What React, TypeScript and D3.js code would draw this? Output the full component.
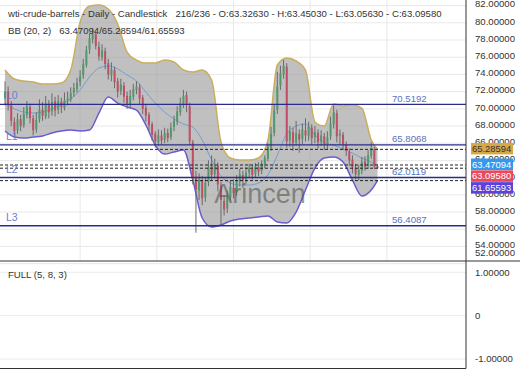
import * as d3 from "d3"

const titleText = "wti-crude-barrels - Daily - Candlestick   216/236 - O:63.32630 - H:63.45030 - L:63.05630 - C:63.09580"
const bbText = "BB (20, 2)   63.47094/65.28594/61.65593"
const oscText = "FULL (5, 8, 3)"
const watermark = "Arincen"

// daily candles: [open, high, low, close]
const ohlc: [number, number, number, number][] = [
  [71.2, 73.2, 70.4, 72.0], [72.0, 72.6, 69.8, 70.5], [70.4, 70.9, 68.0, 68.6], [68.5, 69.0, 66.7, 67.4],
  [67.5, 69.5, 67.1, 68.8], [68.8, 69.3, 67.4, 68.0], [68.1, 70.2, 67.8, 69.4], [69.3, 70.9, 68.9, 70.3],
  [70.2, 70.6, 68.3, 68.9], [68.9, 69.3, 66.9, 67.5], [67.6, 69.6, 67.2, 68.7], [68.8, 71.1, 68.4, 69.9],
  [69.9, 70.8, 68.6, 69.2], [69.1, 71.5, 68.8, 70.6], [70.5, 71.0, 68.9, 69.6], [69.7, 71.8, 69.2, 70.8],
  [70.9, 71.4, 69.1, 69.8], [69.9, 71.6, 69.4, 70.9], [70.8, 71.3, 69.5, 70.2], [70.1, 71.9, 69.8, 71.0],
  [71.0, 72.0, 70.4, 71.2], [71.1, 72.5, 70.8, 71.8], [71.9, 73.0, 71.4, 72.4], [72.3, 73.6, 71.9, 73.0],
  [73.1, 74.5, 72.6, 73.8], [73.9, 75.8, 73.5, 75.2], [75.1, 77.3, 74.8, 76.8], [76.9, 78.7, 76.4, 78.2],
  [78.1, 79.4, 77.6, 78.8], [78.7, 79.0, 76.9, 77.3], [77.2, 77.8, 75.6, 76.1], [76.0, 77.5, 75.6, 76.8],
  [76.7, 77.1, 74.6, 75.2], [75.3, 75.8, 73.4, 74.0], [73.9, 75.4, 73.2, 74.6], [74.5, 74.9, 72.4, 73.1],
  [73.2, 73.6, 71.3, 72.0], [72.1, 73.5, 71.6, 72.8], [72.7, 73.1, 70.7, 71.4], [71.5, 72.0, 70.0, 70.6],
  [70.5, 72.2, 70.1, 71.5], [71.4, 72.9, 71.0, 72.3], [72.2, 73.2, 71.7, 72.6], [72.5, 72.9, 70.5, 71.2],
  [71.3, 71.6, 69.4, 70.0], [70.1, 70.5, 68.5, 69.2], [69.3, 69.6, 67.4, 68.1], [68.2, 68.5, 66.3, 67.0],
  [67.1, 67.4, 65.5, 66.2], [66.1, 67.6, 65.7, 66.9], [66.9, 67.5, 65.8, 66.3], [66.4, 67.8, 66.0, 67.2],
  [67.2, 67.7, 66.1, 66.6], [66.7, 68.4, 66.4, 67.8], [67.9, 69.2, 67.4, 68.6], [68.5, 70.3, 68.1, 69.7],
  [69.6, 71.3, 69.2, 70.6], [70.5, 72.2, 70.1, 71.5], [71.6, 72.0, 69.6, 70.4], [70.3, 70.7, 65.8, 66.2],
  [66.1, 66.4, 61.2, 62.0], [62.1, 62.8, 55.6, 60.6], [60.5, 62.5, 59.4, 61.8], [61.7, 62.2, 58.8, 59.6],
  [59.7, 62.0, 59.2, 61.4], [61.5, 64.0, 61.0, 63.2], [63.3, 64.6, 61.7, 62.3], [62.4, 64.2, 61.9, 63.5],
  [63.4, 63.8, 60.4, 61.2], [61.1, 61.5, 56.5, 59.4], [59.3, 59.9, 57.6, 58.3], [58.4, 60.5, 57.9, 59.8],
  [59.7, 61.6, 59.3, 60.9], [60.8, 61.8, 59.6, 60.2], [60.3, 62.3, 59.9, 61.6], [61.5, 63.0, 61.0, 62.4],
  [62.3, 62.8, 60.8, 61.7], [61.8, 63.2, 61.3, 62.6], [62.6, 63.6, 62.0, 63.1], [63.0, 63.5, 61.8, 62.3],
  [62.4, 63.7, 62.0, 63.3], [63.2, 63.8, 62.2, 62.7], [62.8, 64.0, 62.4, 63.6], [63.5, 64.6, 63.1, 64.3],
  [64.2, 66.0, 63.9, 65.6], [65.5, 67.9, 65.1, 67.1], [67.2, 70.5, 66.8, 69.8], [69.9, 74.3, 69.4, 72.6],
  [72.7, 75.0, 72.2, 74.1], [74.0, 75.7, 73.5, 75.0], [74.9, 75.3, 65.5, 66.2], [66.3, 68.0, 65.6, 67.4],
  [67.3, 67.8, 65.1, 66.0], [66.1, 68.6, 65.7, 67.2], [67.1, 67.6, 64.9, 66.4], [66.5, 68.3, 65.9, 67.6],
  [67.5, 68.9, 66.2, 66.9], [66.8, 68.5, 66.3, 67.9], [67.8, 68.2, 65.8, 66.6], [66.7, 68.0, 66.0, 67.3],
  [67.2, 67.6, 65.4, 66.1], [66.2, 67.5, 65.7, 66.9], [66.8, 67.2, 65.2, 65.8], [65.9, 67.4, 65.3, 66.7],
  [66.8, 69.1, 66.4, 68.3], [68.2, 70.4, 67.7, 69.6], [69.5, 69.9, 66.1, 66.8], [66.9, 67.6, 65.8, 67.1],
  [67.0, 67.3, 65.2, 65.9], [65.8, 66.2, 64.5, 65.1], [65.0, 65.4, 63.4, 64.0], [64.1, 64.6, 62.5, 63.2],
  [63.1, 63.6, 61.8, 62.4], [62.3, 63.5, 61.7, 62.9], [62.8, 64.4, 62.4, 63.8], [63.9, 64.5, 62.8, 63.3],
  [63.4, 65.2, 63.0, 64.6], [64.5, 66.1, 64.2, 65.4], [65.3, 65.6, 63.0, 63.3], [63.3263, 63.4503, 63.0563, 63.0958],
]

// Bollinger band values, read at every third bar
const bandBars = [0, 3, 6, 9, 12, 15, 18, 21, 24, 27, 30, 33, 36, 39, 42, 45, 48, 51, 54, 57, 60,
  63, 66, 69, 72, 75, 78, 81, 84, 87, 90, 93, 96, 99, 102, 105, 108, 111, 114, 117, 119]
const upperBand = [74.51, 73.46, 73.23, 73.12, 72.88, 72.88, 73.0, 74.51, 80.09, 81.95, 82.07, 81.6, 79.86,
  76.6, 75.67, 75.32, 75.32, 75.67, 75.44, 74.51, 74.28, 74.51, 73.35, 66.14, 64.28, 64.05, 64.05, 64.28,
  66.37, 75.09, 75.9, 75.56, 74.51, 68.47, 68.0, 70.56, 70.33, 70.44, 70.09, 66.37, 65.28594]
const middleBand = [70.67, 69.98, 69.63, 69.51, 69.63, 69.98, 70.56, 71.14, 72.19, 73.7, 74.74, 74.97, 74.63,
  73.93, 73.23, 71.95, 70.67, 69.63, 68.81, 68.23, 67.88, 66.37, 64.05, 62.19, 61.38, 61.14, 61.14, 61.38,
  62.31, 64.63, 67.07, 68.0, 68.23, 66.95, 66.02, 65.79, 65.33, 64.86, 64.28, 63.81, 63.47094]
const lowerBand = [67.42, 66.72, 66.61, 66.72, 66.84, 67.19, 67.42, 67.53, 67.42, 67.53, 69.51, 71.37, 70.67,
  70.21, 69.86, 68.12, 65.79, 64.74, 64.98, 65.21, 61.72, 57.31, 56.27, 56.5, 56.96, 57.19, 57.31, 57.42,
  57.54, 56.84, 56.73, 58.0, 60.56, 63.12, 64.28, 64.4, 63.81, 61.72, 59.86, 60.56, 61.65593]

const levelNames = ["L0", "L1", "L2", "L3"]
const levelValues = [70.5192, 65.8068, 62.0119, 56.4087]

const lastValues = [65.28594, 63.47094, 63.0958, 61.65593]
const lastColors = ["#d8a847", "#3399ee", "#e84a5c", "#5b42d8"]
const lastTextColors = ["#333", "#fff", "#fff", "#fff"]

const priceTicks = [82, 80, 78, 76, 74, 72, 70, 68, 66, 64, 62, 60, 58, 56, 54, 52]
const oscTicks = [1, 0, -1]
const oscTickLabels = ["1.00000", "0", "-1.00000"]
const gridBars = [24, 48.5, 73, 97.5, 122]

const W = 520
const H = 390
const plotRight = 466
const mainBottom = 261
const oscBottom = 368.5
const font = "'Liberation Sans', Arial, sans-serif"

export default function App() {
  const x = d3.scaleLinear().domain([0, ohlc.length - 1]).range([5, 377.5])
  const y = d3.scaleLinear().domain([52.31, 82.65]).range([mainBottom, 0])
  const yOsc = d3.scaleLinear().domain([-1, 1]).range([359, 272.3])

  const bandPts = bandBars.map((b, i) => ({ b, up: upperBand[i], mid: middleBand[i], lo: lowerBand[i] }))
  const area = d3
    .area<(typeof bandPts)[number]>()
    .x((d) => x(d.b))
    .y0((d) => y(d.lo))
    .y1((d) => y(d.up))
    .curve(d3.curveMonotoneX)
  const line = (key: "up" | "mid" | "lo") =>
    d3
      .line<(typeof bandPts)[number]>()
      .x((d) => x(d.b))
      .y((d) => y(d[key]))
      .curve(d3.curveMonotoneX)(bandPts) || ""

  // stack the last-value badges so they don't overlap
  const badgeY: number[] = []
  lastValues.forEach((v, i) => {
    const yy = y(v) - 0.7
    badgeY.push(i === 0 ? yy : Math.max(yy, badgeY[i - 1] + 11.8))
  })

  return (
    <svg width={W} height={H} style={{ position: "absolute", left: 0, top: 0, fontFamily: font }}>
      <rect width={W} height={H} fill="#fff" />

      {/* grid */}
      {priceTicks.map((t) => (
        <line key={t} x1={0} x2={plotRight} y1={y(t)} y2={y(t)} stroke="#e9e9e9" />
      ))}
      {gridBars.map((g) => (
        <line key={g} x1={x(g)} x2={x(g)} y1={0} y2={mainBottom} stroke="#e9e9e9" />
      ))}
      {oscTicks.map((t) => (
        <line key={t} x1={0} x2={plotRight} y1={yOsc(t)} y2={yOsc(t)} stroke="#ececec" />
      ))}

      {/* bollinger bands */}
      <path d={area(bandPts) || ""} fill="#9a9a9a" fillOpacity={0.62} />
      <path d={line("mid")} fill="none" stroke="#6f9fd6" strokeWidth={1} />
      <path d={line("up")} fill="none" stroke="#c9ae5c" strokeWidth={1.5} />
      <path d={line("lo")} fill="none" stroke="#6a5ccf" strokeWidth={1.5} />

      {/* candles */}
      {ohlc.map(([o, h, l, c], i) => {
        const color = c >= o ? "#4f9a6b" : "#c24d66"
        return (
          <g key={i}>
            <line x1={x(i)} x2={x(i)} y1={y(h)} y2={y(l)} stroke="#6a6a6a" strokeWidth={1} />
            <rect
              x={x(i) - 1}
              width={2}
              y={y(Math.max(o, c))}
              height={Math.max(1, Math.abs(y(o) - y(c)))}
              fill={color}
            />
          </g>
        )
      })}

      {/* last value dashed lines */}
      {lastValues.map((v) => (
        <line key={v} x1={0} x2={plotRight} y1={y(v)} y2={y(v)} stroke="#222" strokeDasharray="3,2" />
      ))}

      {/* levels */}
      {levelValues.map((v, i) => (
        <g key={v}>
          <line x1={0} x2={plotRight} y1={y(v)} y2={y(v)} stroke="#2b2b8c" strokeWidth={1.4} />
          <text x={6} y={y(v) - 5} fontSize={10.5} fill="#6b7fd7">
            {levelNames[i]}
          </text>
          <text x={392} y={y(v) - 2.5} fontSize={9.6} fill="#5a72c0">
            {v.toFixed(4)}
          </text>
        </g>
      ))}

      <text x={260} y={203} fontSize={27} fill="#555" fillOpacity={0.6} textAnchor="middle">
        {watermark}
      </text>

      {/* axes */}
      <line x1={plotRight} x2={plotRight} y1={0} y2={oscBottom} stroke="#333" />
      <line x1={0} x2={W} y1={mainBottom} y2={mainBottom} stroke="#333" />
      <line x1={0} x2={plotRight} y1={oscBottom} y2={oscBottom} stroke="#333" />

      {priceTicks.map((t) => (
        <text key={t} x={475} y={Math.min(y(t) - 1.5, 253)} dy="0.35em" fontSize={9.6} fill="#333">
          {t.toFixed(5)}
        </text>
      ))}
      {lastValues.map((v, i) => (
        <g key={v}>
          <rect x={471} y={badgeY[i] - 5.75} width={42} height={11.5} fill={lastColors[i]} />
          <text x={472} y={badgeY[i]} dy="0.35em" fontSize={9.4} fill={lastTextColors[i]}>
            {v.toFixed(5)}
          </text>
        </g>
      ))}
      {oscTicks.map((t, i) => (
        <text key={t} x={475} y={yOsc(t)} dy="0.35em" fontSize={9.6} fill="#333">
          {oscTickLabels[i]}
        </text>
      ))}

      {/* legends */}
      <text x={8} y={16.5} fontSize={9.6} fill="#333" style={{ whiteSpace: "pre" }}>
        {titleText}
      </text>
      <text x={8} y={33.5} fontSize={9.6} fill="#333" style={{ whiteSpace: "pre" }}>
        {bbText}
      </text>
      <text x={8} y={277.5} fontSize={9.6} fill="#333">
        {oscText}
      </text>
    </svg>
  )
}
